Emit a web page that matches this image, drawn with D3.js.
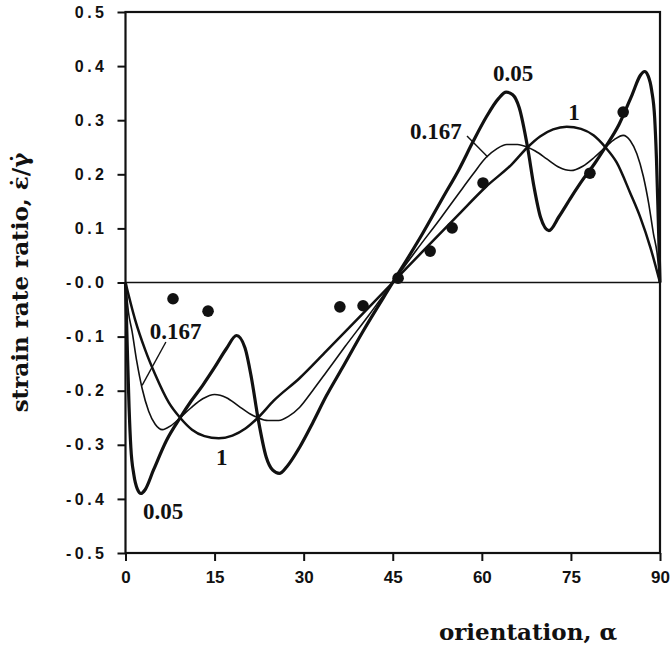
<!DOCTYPE html>
<html>
<head>
<meta charset="utf-8">
<script src="https://cdn.jsdelivr.net/npm/d3@7/dist/d3.min.js"></script>
<style>
  html, body { margin: 0; padding: 0; background: #fff; }
  svg { display: block; }
</style>
</head>
<body>
<svg id="chart" width="670" height="646"></svg>
<script>
// Strain rate ratio versus orientation for three parameter values, plus measured points.

// x ticks (orientation, degrees) and y ticks (strain rate ratio)
const xTicks = [0, 15, 30, 45, 60, 75, 90];
const yTicks = [0.5, 0.4, 0.3, 0.2, 0.1, 0, -0.1, -0.2, -0.3, -0.4, -0.5];
const yTickLabels = ["0.5", "0.4", "0.3", "0.2", "0.1", "-0.0", "-0.1", "-0.2", "-0.3", "-0.4", "-0.5"];

// curve for parameter 0.05: [orientation, ratio]
const curve005 = [
  [0, 0], [0.3, -0.12], [0.6, -0.23], [0.9, -0.305], [1.4, -0.355], [2.0, -0.382],
  [2.6, -0.39], [3.3, -0.383], [4.7, -0.347], [6.9, -0.292], [9.2, -0.25], [11, -0.22],
  [13, -0.19], [15, -0.157], [17, -0.122], [18.7, -0.098], [20.1, -0.12], [21.2, -0.176],
  [22.3, -0.25], [23.7, -0.323], [24.8, -0.347], [25.9, -0.353], [27.2, -0.34], [29.3, -0.305],
  [31.5, -0.26], [33.8, -0.21], [36.5, -0.158], [40, -0.09], [45, 0],
  [50, 0.09], [53.5, 0.158], [56.2, 0.21], [58.5, 0.26], [60.7, 0.305], [62.8, 0.34],
  [64.1, 0.352], [65.2, 0.347], [66.3, 0.323], [67.7, 0.25], [68.8, 0.176], [69.9, 0.12],
  [71.3, 0.096], [73, 0.122], [75, 0.157], [77, 0.19], [79, 0.22], [80.8, 0.25],
  [83.1, 0.292], [85.3, 0.347], [86.7, 0.383], [87.4, 0.39], [88.0, 0.382], [88.6, 0.355],
  [89.1, 0.305], [89.4, 0.23], [89.7, 0.12], [90, 0]
];

// curve for parameter 0.167
const curve0167 = [
  [0, 0], [0.5, -0.055], [1.1, -0.09], [1.9, -0.146], [2.8, -0.196], [3.9, -0.238],
  [5.0, -0.262], [6.2, -0.272], [7.6, -0.265], [9.2, -0.25], [11, -0.232], [13, -0.215],
  [15, -0.207], [17, -0.213], [19, -0.228], [21, -0.243], [22.3, -0.25], [24, -0.255],
  [25.8, -0.255], [27.5, -0.247], [29.3, -0.231], [31.5, -0.2], [33.8, -0.166], [37, -0.118],
  [41, -0.06], [45, 0],
  [49, 0.06], [53, 0.118], [56.2, 0.166], [58.5, 0.2], [60.7, 0.231], [62.5, 0.247],
  [64.2, 0.255], [66, 0.255], [67.7, 0.25], [69, 0.243], [71, 0.228], [73, 0.213],
  [75, 0.207], [77, 0.215], [79, 0.232], [80.8, 0.25], [82.4, 0.265], [83.8, 0.272],
  [85.0, 0.262], [86.1, 0.238], [87.2, 0.196], [88.1, 0.146], [88.9, 0.09], [89.5, 0.055], [90, 0]
];

// curve for parameter 1
const curve1 = [
  [0, 0], [1.6, -0.068], [3.3, -0.124], [5.0, -0.17], [7.3, -0.222], [9.2, -0.25],
  [11.2, -0.272], [13.3, -0.284], [15.7, -0.288], [18, -0.283], [20.2, -0.27], [22.3, -0.25],
  [25, -0.218], [29.3, -0.177], [33.8, -0.127], [40, -0.057], [45, 0],
  [50, 0.057], [56.2, 0.127], [60.7, 0.177], [65, 0.218], [67.7, 0.25], [69.8, 0.27],
  [72, 0.283], [74.3, 0.288], [76.7, 0.284], [78.8, 0.272], [80.8, 0.25], [82.7, 0.222],
  [85.0, 0.165], [86.7, 0.12], [88.4, 0.064], [90, 0]
];

// measured points
const pointAlpha = [8.0, 13.9, 36.1, 40.0, 45.9, 51.3, 55.0, 60.2, 78.2, 83.8];
const pointRatio = [-0.030, -0.053, -0.045, -0.043, 0.008, 0.058, 0.101, 0.184, 0.202, 0.315];

// curve labels: text, anchor orientation, anchor ratio, text anchor
const curveLabels = [
  ["0.05", 2.95, -0.437, "start"],
  ["1", 16.2, -0.337, "middle"],
  ["0.167", 4.1, -0.104, "start"],
  ["0.05", 61.9, 0.372, "start"],
  ["1", 75.5, 0.300, "middle"],
  ["0.167", 47.9, 0.265, "start"]
];
// leader lines from the 0.167 labels to their curve
const leaders = [
  [[6.8, -0.110], [2.8, -0.190]],
  [[57.5, 0.271], [61.0, 0.232]]
];

const svg = d3.select("#chart");
const x = d3.scaleLinear().domain([0, 90]).range([125.5, 660]);
const y = d3.scaleLinear().domain([-0.5, 0.5]).range([553, 12]);

// y axis ticks and labels
const yAxis = d3.axisLeft(y).tickValues(yTicks).tickSize(8).tickPadding(10)
  .tickFormat((d, i) => yTickLabels[i]);
const gy = svg.append("g").attr("transform", `translate(${x(0)},0)`).call(yAxis);
gy.select(".domain").remove();
gy.selectAll(".tick line").attr("stroke", "#111").attr("stroke-width", 2);
gy.selectAll(".tick text")
  .attr("fill", "#111")
  .style("font-family", "'Liberation Sans', Arial, sans-serif")
  .style("font-weight", "bold")
  .style("font-size", "16px")
  .style("letter-spacing", "3.5px");

// x axis ticks and labels
const xAxis = d3.axisBottom(x).tickValues(xTicks).tickSize(8).tickPadding(10)
  .tickFormat(d3.format("d"));
const gx = svg.append("g").attr("transform", `translate(0,${y(-0.5)})`).call(xAxis);
gx.select(".domain").remove();
gx.selectAll(".tick line").attr("stroke", "#111").attr("stroke-width", 2);
gx.selectAll(".tick text")
  .attr("fill", "#111")
  .style("font-family", "'Liberation Sans', Arial, sans-serif")
  .style("font-weight", "bold")
  .style("font-size", "17px");

// plot frame
svg.append("rect")
  .attr("x", x(0)).attr("y", y(0.5))
  .attr("width", x(90) - x(0)).attr("height", y(-0.5) - y(0.5))
  .attr("fill", "none").attr("stroke", "#111").attr("stroke-width", 2.2);

// zero line
svg.append("line")
  .attr("x1", x(0)).attr("x2", x(90)).attr("y1", y(0)).attr("y2", y(0))
  .attr("stroke", "#111").attr("stroke-width", 1.6);

const line = d3.line().x(d => x(d[0])).y(d => y(d[1])).curve(d3.curveMonotoneX);

const series = [
  { data: curve0167, width: 1.6 },
  { data: curve1, width: 2.5 },
  { data: curve005, width: 3.2 }
];
svg.append("g").selectAll("path").data(series).join("path")
  .attr("d", s => line(s.data))
  .attr("fill", "none")
  .attr("stroke", "#111")
  .attr("stroke-width", s => s.width)
  .attr("stroke-linejoin", "round");

// measured points
svg.append("g").selectAll("circle").data(pointAlpha).join("circle")
  .attr("cx", d => x(d))
  .attr("cy", (d, i) => y(pointRatio[i]))
  .attr("r", 5.8)
  .attr("fill", "#111");

// leader lines
svg.append("g").selectAll("line").data(leaders).join("line")
  .attr("x1", d => x(d[0][0])).attr("y1", d => y(d[0][1]))
  .attr("x2", d => x(d[1][0])).attr("y2", d => y(d[1][1]))
  .attr("stroke", "#111").attr("stroke-width", 1.4);

// curve labels
svg.append("g").selectAll("text").data(curveLabels).join("text")
  .attr("x", d => x(d[1]))
  .attr("y", d => y(d[2]))
  .attr("text-anchor", d => d[3])
  .attr("fill", "#111")
  .style("font-family", "'Liberation Serif', 'Times New Roman', serif")
  .style("font-weight", "bold")
  .style("font-size", "23px")
  .text(d => d[0]);

// axis titles
svg.append("text")
  .attr("x", 528).attr("y", 640)
  .attr("text-anchor", "middle")
  .attr("fill", "#111")
  .style("font-family", "'DejaVu Serif', serif")
  .style("font-weight", "bold")
  .style("font-size", "23px")
  .text("orientation, \u03B1");

svg.append("text")
  .attr("transform", `translate(28,${(y(0.5) + y(-0.5)) / 2}) rotate(-90)`)
  .attr("text-anchor", "middle")
  .attr("fill", "#111")
  .style("font-family", "'DejaVu Serif', serif")
  .style("font-weight", "bold")
  .style("font-size", "23px")
  .text("strain rate ratio, \u03B5\u0307/\u03B3\u0307");
</script>
</body>
</html>
